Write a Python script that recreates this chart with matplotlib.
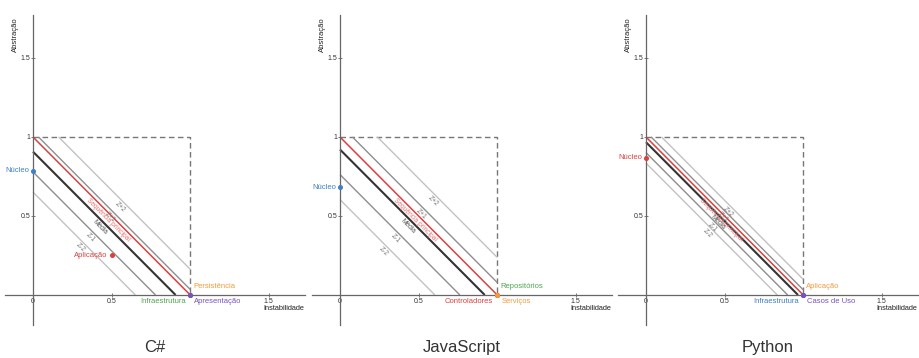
import numpy as np
import matplotlib
matplotlib.use('Agg')
import matplotlib.pyplot as plt

plt.rcParams['font.family'] = ['Liberation Sans', 'DejaVu Sans']

# ── data: instability (I) and abstraction (A) per module ──
panel_titles = ['C#', 'JavaScript', 'Python']

cs_modules = ['Núcleo', 'Aplicação', 'Persistência', 'Infraestrutura', 'Apresentação']
cs_instability = [0.0, 0.5, 1.0, 1.0, 1.0]
cs_abstraction = [0.785, 0.25, 0.0, 0.0, 0.0]

js_modules = ['Núcleo', 'Repositórios', 'Controladores', 'Serviços']
js_instability = [0.0, 1.0, 1.0, 1.0]
js_abstraction = [0.683, 0.0, 0.0, 0.0]

py_modules = ['Núcleo', 'Aplicação', 'Infraestrutura', 'Casos de Uso']
py_instability = [0.0, 1.0, 1.0, 1.0]
py_abstraction = [0.868, 0.0, 0.0, 0.0]

# ── styles ──
cs_colors = ['#3f7fc6', '#d9413f', '#f59a3c', '#4fa64f', '#7652c4']
cs_places = ['left', 'left', 'above_right', 'below_left', 'below_right']
js_colors = ['#3f7fc6', '#4fa64f', '#d9413f', '#f59a3c']
js_places = ['left', 'above_right', 'below_left', 'below_right']
py_colors = ['#d9413f', '#f59a3c', '#3f7fc6', '#7652c4']
py_places = ['left', 'above_right', 'below_left', 'below_right']

offsets = {
    'left': ((-3, 0), 'right', 'center'),
    'above_right': ((2, 6), 'left', 'center'),
    'below_left': ((-3, -5), 'right', 'center'),
    'below_right': ((3, -5), 'left', 'center'),
}

AXIS_GRAY = '#666666'


def seg(c):
    """segment of the line I + A = c inside the unit square"""
    x0, x1 = max(0.0, c - 1), min(1.0, c)
    return [x0, x1], [c - x0, c - x1]


fig = plt.figure(figsize=(9.19, 3.58), dpi=100)
lefts = [5, 312, 618]
datasets = [
    (cs_modules, cs_instability, cs_abstraction, cs_colors, cs_places),
    (js_modules, js_instability, js_abstraction, js_colors, js_places),
    (py_modules, py_instability, py_abstraction, py_colors, py_places),
]

for left, title, (mods, inst, abst, cols, places) in zip(lefts, panel_titles, datasets):
    ax = fig.add_axes([left / 919, 1 - 325 / 358, 300 / 919, 310 / 358])
    ax.set_xlim(-0.178, 1.73)
    ax.set_ylim(-0.19, 1.772)

    for s in ('top', 'right'):
        ax.spines[s].set_visible(False)
    for s in ('left', 'bottom'):
        ax.spines[s].set_position(('data', 0))
        ax.spines[s].set_color(AXIS_GRAY)
        ax.spines[s].set_linewidth(0.9)

    ax.set_xticks([0, 0.5, 1, 1.5])
    ax.set_xticklabels(['0', '0.5', '', '1.5'])
    ax.set_yticks([0.5, 1, 1.5])
    ax.set_yticklabels(['0.5', '1', '1.5'])
    ax.tick_params(direction='inout', length=3, width=0.6, color=AXIS_GRAY,
                   labelsize=5, labelcolor='#333333', pad=0.5)

    ax.set_xlabel('Instabilidade', fontsize=5.3, color='#222222', ha='left', va='center')
    ax.xaxis.set_label_coords(0.862, 0.052)
    ax.set_ylabel('Abstração', fontsize=5.5, color='#222222')
    ax.yaxis.set_label_coords(0.047, 0.935)

    # dashed unit box
    ax.plot([0, 1, 1], [1, 1, 0], color='#777777', lw=1.0, ls=(0, (4, 2.5)))

    # mean and sample std of I + A
    d = np.array(inst) + np.array(abst)
    mu, sd = d.mean(), d.std(ddof=1)

    lines = [
        (mu + 2 * sd, 'Z+2', '#c2c2c2', 1.0, '#777777'),
        (mu + sd, 'Z+1', '#8e8e8e', 1.0, '#777777'),
        (mu - sd, 'Z-1', '#8e8e8e', 1.0, '#777777'),
        (mu - 2 * sd, 'Z-2', '#c2c2c2', 1.0, '#777777'),
        (mu, 'Média', '#333333', 1.5, '#555555'),
        (1.0, 'Sequência principal', '#d9413f', 1.1, '#e57070'),
    ]
    for c, lab, col, lw, tcol in lines:
        xs, ys = seg(c)
        ax.plot(xs, ys, color=col, lw=lw, solid_capstyle='butt')
        mx, my = np.mean(xs), np.mean(ys)
        ax.annotate(lab, (mx, my), xytext=(-3, -3), textcoords='offset points',
                    rotation=-45, rotation_mode='anchor', ha='center', va='center',
                    fontsize=4.8, color=tcol)

    for m, x, y, col, pl in zip(mods, inst, abst, cols, places):
        ax.plot(x, y, 'o', ms=2.6, color=col, zorder=5)
        off, ha, va = offsets[pl]
        ax.annotate(m, (x, y), xytext=off, textcoords='offset points',
                    ha=ha, va=va, fontsize=5.5, color=col)

    ax.text(0.5, -0.074, title, transform=ax.transAxes, ha='center', va='center',
            fontsize=12, color='#333333')

fig.savefig('out.png', dpi=100)
